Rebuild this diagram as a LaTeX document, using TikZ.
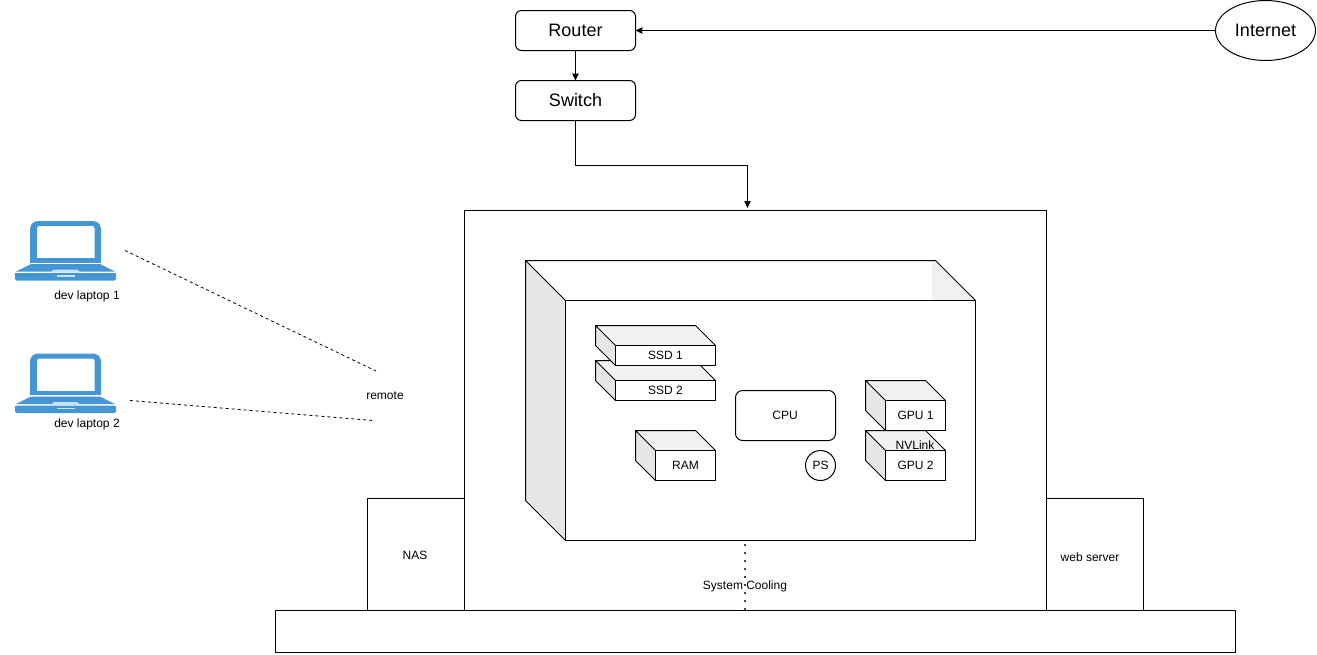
\documentclass[tikz,border=0pt]{standalone}
\usepackage{fontspec}
\setmainfont{Liberation Sans}
\usetikzlibrary{arrows.meta,shapes.geometric,positioning,calc}
\definecolor{lapblue}{HTML}{4596D4}
\definecolor{laplight}{HTML}{C9E2F5}
\definecolor{faceside}{HTML}{E6E6E6}
\definecolor{facetop}{HTML}{F1F1F1}
\tikzset{
  line/.style={draw=black,line width=1pt},
  small/.style={font=\fontsize{12}{14}\selectfont},
  big/.style={font=\fontsize{18}{21}\selectfont},
  plainbox/.style={line,fill=white,inner sep=0pt,outer sep=0pt,anchor=north west,small},
  netbox/.style={line,fill=white,rounded corners=6pt,inner sep=0pt,outer sep=0pt,minimum width=120pt,minimum height=40pt,big},
  label/.style={small,inner sep=0pt,anchor=base},
  flow/.style={line,-{Stealth[length=7pt,width=6.5pt,inset=0.5pt]}},
  dashlink/.style={line width=.8pt,dash pattern=on 3pt off 3pt},
  coolink/.style={line width=2.2pt,line cap=round,dash pattern=on 0pt off 8pt},
  facefront/.style={line,fill=white,inner sep=0pt,outer sep=0pt,anchor=north west,small},
}
% name, x, y of the back corner, label, front width, front height, depth
\newcommand{\mycube}[7]{%
  \fill[facetop] (#2,#3) -- ++(#5,0) -- ++(#7,#7) -- ++(-#5,0) -- cycle;
  \fill[faceside] (#2,#3) -- ++(#7,#7) -- ++(0,#6) -- ++(-#7,-#7) -- cycle;
  \draw[line,line join=round] (#2,#3) -- ++(#5,0) -- ++(#7,#7) ++(-#5,0) -- ++(-#7,-#7) -- ++(0,#6) -- ++(#7,#7);
  \node[facefront,minimum width=#5pt,minimum height=#6pt] (#1) at ({#2+#7},{#3+#7}) {#4};
}
\newcommand{\mylaptop}[2]{%
  \begin{scope}[yshift=-#2pt]
    \fill[lapblue,rounded corners=8pt] (30,268) -- (30,221) -- (101,221) -- (101,268) -- cycle;
    \fill[lapblue] (30,250) rectangle (101,262.5);
    \fill[white] (30,262.5) rectangle (101,264);
    \fill[white,rounded corners=2.5pt] (37,262) -- (37,226) -- (94.5,226) -- (94.5,262) -- cycle;
    \fill[lapblue] (30,258) rectangle (101,262.5);
    \fill[lapblue] (31,264) -- (100,264) -- (115,271.5) -- (16,271.5) -- cycle;
    \fill[lapblue,rounded corners=2pt] (15,273) -- (15,280.5) -- (116,280.5) -- (116,273) -- cycle;
    \fill[lapblue] (15,273) rectangle (116,276);
    \fill[laplight] (50,272.5) -- (54,269.5) -- (77,269.5) -- (81,272.5) -- cycle;
    \fill[laplight] (57,275) rectangle (75,276.5);
    \node[inner sep=0pt,minimum width=101pt,minimum height=60pt] (#1) at (65.5,250.5) {};
  \end{scope}
}
\begin{document}
\begin{tikzpicture}[x=1pt,y=-1pt]
\useasboundingbox (0,0) rectangle (1317,654);

% network
\node[netbox] (router) at (575.5,30.5) {Router};
\node[netbox] (switch) at (575.5,100.5) {Switch};
\node[line,ellipse,fill=white,inner sep=0pt,outer sep=0pt,minimum width=100pt,minimum height=60pt,big] (internet) at (1265.5,30.5) {Internet};

% side boxes and enclosure
\node[plainbox,minimum width=97pt,minimum height=112pt] (nas) at (367.5,498.5) {};
\node[label] (naslabel) at (415,559.5) {NAS};
\node[plainbox,minimum width=97pt,minimum height=112pt] (web) at (1046.5,498.5) {};
\node[label] (weblabel) at (1090,561.5) {web server};
\node[plainbox,minimum width=582pt,minimum height=400pt] (server) at (464.5,210.5) {};
\coordinate (serverin) at (747.5,208);
\node[plainbox,minimum width=960pt,minimum height=42pt] (base) at (275.5,610.5) {};

% large cube
\fill[white] (525.5,260.5) -- (935.5,260.5) -- (975.5,300.5) -- (565.5,300.5) -- cycle;
\fill[facetop] (932,261) -- (935.5,260.5) -- (975.5,300.5) -- (932,300.5) -- cycle;
\fill[facetop] (526,261) -- (565.5,300.5) -- (548,300.5) -- cycle;
\fill[faceside] (525.5,260.5) -- (565.5,300.5) -- (565.5,540.5) -- (525.5,500.5) -- cycle;
\draw[line,line join=round] (565.5,300.5) -- (525.5,260.5) -- (935.5,260.5) -- (975.5,300.5);
\draw[line,line join=round] (525.5,260.5) -- (525.5,500.5) -- (565.5,540.5);
\node[facefront,minimum width=410pt,minimum height=240pt] (chassis) at (565.5,300.5) {};

% components
\mycube{ssdtwo}{595.5}{360.5}{SSD 2}{100}{20}{20}
\mycube{ssdone}{595.5}{325.5}{SSD 1}{100}{20}{20}
\mycube{ram}{635.5}{430.5}{RAM}{60}{30}{20}
\mycube{gputwo}{865.5}{430.5}{GPU 2}{60}{30}{20}
\mycube{gpuone}{865.5}{380.5}{GPU 1}{60}{30}{20}
\node[label] (nvlink) at (915,449) {NVLink};
\node[line,fill=white,rounded corners=7pt,inner sep=0pt,outer sep=0pt,minimum width=100pt,minimum height=50pt,small] (cpu) at (785.5,415.5) {\hspace{-1pt}CPU};
\node[line,circle,fill=white,inner sep=0pt,outer sep=0pt,minimum size=30pt,small] (ps) at (820.5,465.5) {PS};

% cooling
\coordinate (coolstart) at (745,545);
\coordinate (coolend) at (745,611);
\draw[coolink] (coolstart) -- (coolend);
\node[label] (cooling) at (745,589) {System Cooling};

% laptops
\mylaptop{laptopone}{0}
\mylaptop{laptoptwo}{132.5}
\node[label] (devone) at (87,299) {dev laptop 1};
\node[label] (devtwo) at (87,427) {dev laptop 2};
\node[label] (remote) at (385,399) {remote};
\coordinate (lapone) at (125,250.5);
\coordinate (remone) at (376,371);
\coordinate (laptwo) at (130,400.5);
\coordinate (remtwo) at (373,420.5);
\draw[dashlink] (lapone) -- (remone);
\draw[dashlink] (laptwo) -- (remtwo);

% connectors
\draw[flow] (internet.west) -- (router.east);
\draw[flow] (router.south) -- (switch.north);
\draw[flow] (switch.south) -- (575.5,165.5) -| (serverin);
\end{tikzpicture}
\end{document}
